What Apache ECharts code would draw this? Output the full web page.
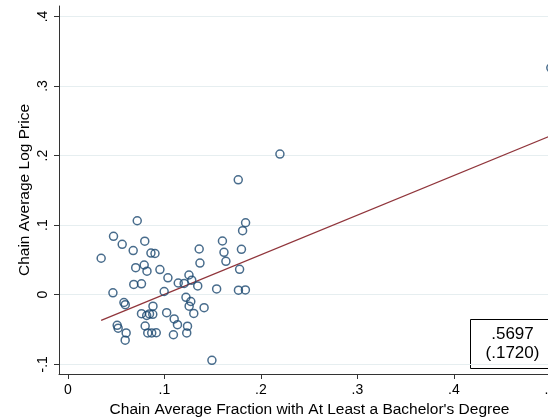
<!DOCTYPE html>
<html>
<head>
<meta charset="utf-8">
<script src="https://cdn.jsdelivr.net/npm/echarts@6/dist/echarts.min.js"></script>
<style>html,body{margin:0;padding:0;background:#fff;}#c{width:548px;height:417px;}</style>
</head>
<body>
<div id="c"></div>
<script>
// Scatter data
var fracBA = [0.2197,0.1765,0.0718,0.1841,0.1810,0.0472,0.0562,0.0796,0.1601,0.0676,
  0.0860,0.0902,0.1360,0.1798,0.1617,0.0344,0.1637,0.1368,0.0702,0.0790,
  0.0819,0.0953,0.1779,0.1036,0.1254,0.1283,0.1143,0.1204,0.1345,0.0682,
  0.0762,0.0997,0.1541,0.1767,0.1839,0.0466,0.1223,0.1273,0.1256,0.0580,
  0.0594,0.0881,0.1411,0.1304,0.1023,0.0762,0.0816,0.0845,0.0879,0.1101,
  0.1135,0.1239,0.0510,0.0520,0.0800,0.0603,0.0827,0.0868,0.0915,0.1093,
  0.1231,0.0593,0.1492,0.5005];
var logPrice = [0.2022,0.1652,0.1063,0.1034,0.0920,0.0839,0.0724,0.0770,0.0772,0.0635,
  0.0599,0.0592,0.0657,0.0652,0.0609,0.0524,0.0480,0.0455,0.0388,0.0427,
  0.0338,0.0361,0.0365,0.0243,0.0283,0.0208,0.0168,0.0162,0.0126,0.0147,
  0.0157,0.0046,0.0083,0.0065,0.0068,0.0027,-0.0037,-0.0098,-0.0165,-0.0112,
  -0.0144,-0.0165,-0.0187,-0.0269,-0.0259,-0.0273,-0.0299,-0.0277,-0.0282,-0.0348,
  -0.0431,-0.0453,-0.0440,-0.0481,-0.0450,-0.0550,-0.0550,-0.0550,-0.0547,-0.0576,
  -0.0550,-0.0654,-0.0943,0.3261];
// Fitted line endpoints
var fitX = [0.0344, 0.5005];
var fitY = [-0.0369, 0.2286];
var coefText = '.5697';
var seText = '(.1720)';
// Tick values
var xTicks = [0, 0.1, 0.2, 0.3, 0.4, 0.5];
var yTicks = [-0.1, 0, 0.1, 0.2, 0.3, 0.4];

function stataFmt(v) {
  var s = (+v.toFixed(2)).toString();
  if (s === '0') return '0';
  return s.replace(/^(-?)0\./, '$1.');
}

var pts = fracBA.map(function (x, i) { return [x, logPrice[i]]; });
var fit = fitX.map(function (x, i) { return [x, fitY[i]]; });

var chart = echarts.init(document.getElementById('c'), null, {renderer: 'canvas'});
var font = 'Liberation Sans, Arial, sans-serif';
chart.setOption({
  animation: false,
  backgroundColor: '#ffffff',
  grid: {left: 59, top: 6, width: 501, height: 368, containLabel: false, outerBoundsMode: 'none'},
  xAxis: {
    type: 'value', min: -0.0093, max: 0.51,
    name: "Chain Average Fraction with At Least a Bachelor's Degree",
    nameLocation: 'middle', nameGap: 26,
    nameTextStyle: {fontFamily: font, fontSize: 15.5, color: '#000'},
    axisLine: {show: true, onZero: false, lineStyle: {color: '#333', width: 1}},
    axisTick: {show: true, length: 5, customValues: xTicks, lineStyle: {color: '#333'}},
    axisLabel: {customValues: xTicks, formatter: stataFmt, fontFamily: font, fontSize: 14, color: '#000', margin: 9, hideOverlap: false},
    splitLine: {show: false}
  },
  yAxis: {
    type: 'value', min: -0.114, max: 0.415,
    name: 'Chain Average Log Price',
    nameLocation: 'middle', nameGap: 26, nameMoveOverlap: false,
    nameTextStyle: {fontFamily: font, fontSize: 15.5, color: '#000'},
    axisLine: {show: true, onZero: false, lineStyle: {color: '#333', width: 1}},
    axisTick: {show: true, length: 5, customValues: yTicks, lineStyle: {color: '#333'}},
    axisLabel: {customValues: yTicks, formatter: stataFmt, rotate: 90, fontFamily: font, fontSize: 14, color: '#000', margin: 9},
    splitLine: {show: true, lineStyle: {color: '#e6eef0', width: 1}}
  },
  series: [
    {
      type: 'scatter', data: pts, symbol: 'circle', symbolSize: 8,
      itemStyle: {color: 'rgba(255,255,255,0)', borderColor: '#1a476f', borderWidth: 1.5},
      z: 3
    },
    {
      type: 'line', data: fit, symbol: 'none',
      lineStyle: {color: '#90353b', width: 1.3},
      z: 2
    }
  ],
  graphic: [
    {
      type: 'group', left: 470, top: 319,
      children: [
        {type: 'rect', shape: {x: 0, y: 0, width: 84, height: 49}, style: {fill: '#fff', stroke: '#000', lineWidth: 1}},
        {type: 'text', x: 42, y: 15, style: {text: coefText, font: '17px ' + font, fill: '#000', align: 'center', verticalAlign: 'middle'}},
        {type: 'text', x: 42, y: 34, style: {text: seText, font: '17px ' + font, fill: '#000', align: 'center', verticalAlign: 'middle'}}
      ]
    }
  ]
});
</script>
</body>
</html>
